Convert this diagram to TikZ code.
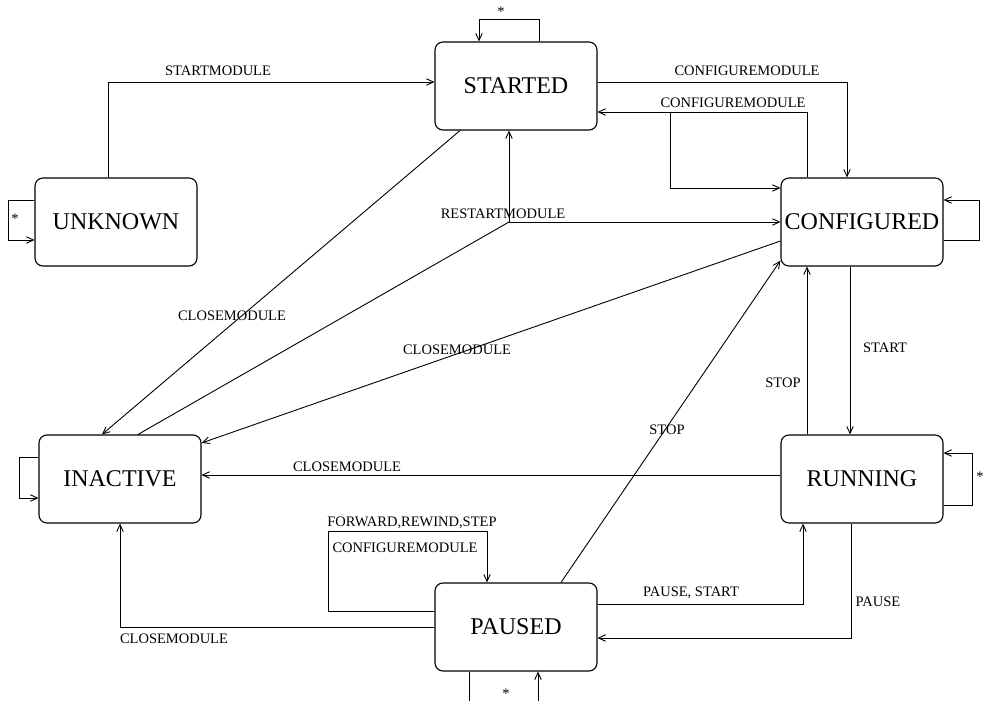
\documentclass[tikz,border=0pt]{standalone}
\usepackage{fontspec}
\setmainfont{Liberation Serif}
\usetikzlibrary{arrows.meta,calc}
\begin{document}
\begin{tikzpicture}[
  x=1bp, y=-1bp,
  every path/.style={line width=0.9bp},
  state/.style={draw, line width=1.1bp, rounded corners=8bp, minimum width=162bp,
    minimum height=88bp, inner sep=0pt, text height=15.9bp, text depth=0pt,
    font=\fontsize{24bp}{28bp}\selectfont},
  lbl/.style={inner sep=0pt, text height=9.6bp, text depth=0pt,
    font=\fontsize{14.5bp}{17bp}\selectfont},
  star/.style={inner sep=0pt, font=\fontsize{14.5bp}{17bp}\selectfont},
  arr/.style={-{Straight Barb[length=7bp,width=6.5bp]}}
]
\useasboundingbox (0,0) rectangle (983,701);

% states
\node[state] (started)    at (516,86)  {STARTED};
\node[state] (unknown)    at (116,222) {UNKNOWN};
\node[state] (configured) at (862,222) {CONFIGURED};
\node[state] (running)    at (862,479) {RUNNING};
\node[state] (inactive)   at (120,479) {INACTIVE};
\node[state] (paused)     at (516,627) {PAUSED};

% branch points
\coordinate (cfgsplit) at (670,112);
\coordinate (rsplit)   at (509,222);

% UNKNOWN
\draw[arr] ([xshift=-8bp]unknown.north) |- ([yshift=4bp]started.west);
\node[lbl] (lstartmod) at (218,71) {STARTMODULE};
\draw[arr] ([yshift=22bp]unknown.west) -- ++(-26,0) |- ([yshift=-18bp]unknown.west);
\node[star] (sunk) at (15,219) {*};

% STARTED
\draw[arr] ([xshift=23bp]started.north) -- ++(0,-22) -| ([xshift=-37bp]started.north);
\node[star] (sstart) at (501,12) {*};
\draw[arr] ([yshift=4bp]started.east) -| ([xshift=-15bp]configured.north);
\node[lbl] (lcfg1) at (747,71) {CONFIGUREMODULE};
\draw[arr] ([xshift=-55bp]configured.north) |- ([yshift=-26bp]started.east);
\draw[arr] (cfgsplit) |- ([yshift=34bp]configured.west);
\node[lbl] (lcfg2) at (733,103) {CONFIGUREMODULE};
\draw[arr] ([xshift=-56bp]started.south) -- ([xshift=-18bp]inactive.north);
\node[lbl] (lclose1) at (232,316) {CLOSEMODULE};

% RESTARTMODULE
\draw ([xshift=18bp]inactive.north) -- (rsplit);
\draw[arr] (rsplit) -- (rsplit |- started.south);
\draw[arr] (rsplit) -- (configured.west);
\node[lbl] (lrestart) at (503,214) {RESTARTMODULE};

% CONFIGURED
\draw[arr] ([yshift=-19bp]configured.west) -- ([yshift=36bp]inactive.east);
\node[lbl] (lclose2) at (457,350) {CLOSEMODULE};
\draw[arr] ([yshift=-18bp]configured.east) -- ++(36,0) |- ([yshift=22bp]configured.east);
\draw[arr] ([xshift=-12bp]configured.south) -- ([xshift=-12bp]running.north);
\node[lbl] (lstart) at (885,348) {START};

% RUNNING
\draw[arr] ([xshift=-55bp]running.north) -- ([xshift=-55bp]configured.south);
\node[lbl] (lstop1) at (783,383) {STOP};
\draw[arr] ([yshift=4bp]running.west) -- ([yshift=4bp]inactive.east);
\node[lbl] (lclose3) at (347,467) {CLOSEMODULE};
\draw[arr] ([yshift=-26bp]running.east) -- ++(29,0) |- ([yshift=26bp]running.east);
\node[star] (srun) at (980,477) {*};
\draw[arr] ([xshift=-11bp]running.south) |- ([yshift=-11bp]paused.east);
\node[lbl] (lpause) at (878,602) {PAUSE};

% PAUSED
\draw[arr] ([xshift=45bp]paused.north) -- ([yshift=6bp]configured.south west);
\node[lbl] (lstop2) at (667,430) {STOP};
\draw[arr] ([yshift=23bp]paused.east) -| ([xshift=-59bp]running.south);
\node[lbl] (lpausestart) at (691,592) {PAUSE, START};
\draw[arr] (paused.west) -| (inactive.south);
\node[lbl] (lclose4) at (174,639) {CLOSEMODULE};
\draw[arr] ([yshift=16bp]paused.west) -- ++(-106,0) -- ++(0,-80) -| ([xshift=-29bp]paused.north);
\node[lbl] (lfwd) at (412,522) {FORWARD,REWIND,STEP};
\node[lbl] (lcfg3) at (405,548) {CONFIGUREMODULE};
\draw[arr] ([xshift=-47bp]paused.south) -- ++(0,40) -| ([xshift=22bp]paused.south);
\node[star] (spause) at (506,694) {*};

% INACTIVE
\draw[arr] ([yshift=22bp]inactive.west) -- ++(-19,0) |- ([yshift=-19bp]inactive.west);
\end{tikzpicture}
\end{document}
